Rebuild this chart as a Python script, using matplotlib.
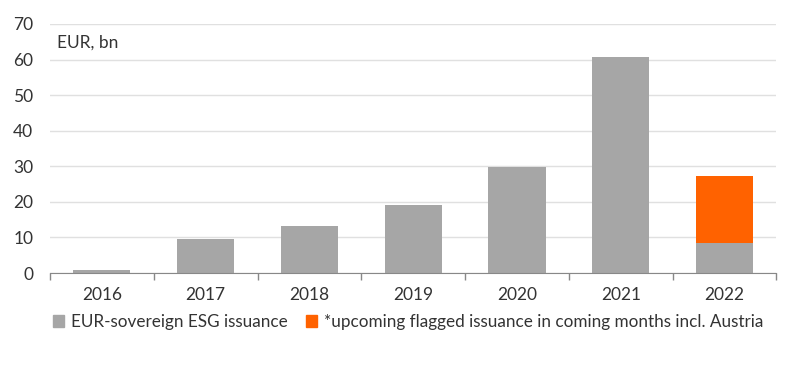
import matplotlib
matplotlib.use("Agg")
from matplotlib import pyplot as plt
from matplotlib.patches import Patch

# Data
years = ["2016", "2017", "2018", "2019", "2020", "2021", "2022"]
issued = [0.8, 9.6, 13.3, 19.1, 29.9, 60.8, 8.4]
upcoming = [0, 0, 0, 0, 0, 0, 18.9]

grey = "#a6a6a6"
orange = "#ff6200"
text_col = "#333333"

plt.rcParams["font.family"] = ["Lato", "DejaVu Sans"]

fig = plt.figure(figsize=(8, 3.68), dpi=100)
ax = fig.add_axes([0.0625, 0.258, 0.908, 0.677])

x = range(len(years))
ax.bar(x, issued, width=0.55, color=grey, zorder=2)
ax.bar(x, upcoming, width=0.55, bottom=issued, color=orange, zorder=2)

ax.set_xlim(-0.5, len(years) - 0.5)
ax.set_ylim(0, 70)
ax.set_yticks(range(0, 71, 10))
ax.yaxis.grid(True, color="#e0e0e0", linewidth=1)
ax.set_axisbelow(True)

# Category ticks at boundaries
ax.set_xticks([i - 0.5 for i in range(len(years) + 1)], minor=False)
ax.set_xticklabels([])
ax.set_xticks(list(x), minor=True)
ax.set_xticklabels(years, minor=True)
ax.tick_params(axis="x", which="major", length=5, color="#888888", width=1)
ax.tick_params(axis="x", which="minor", length=0, pad=10, labelsize=12.5, labelcolor=text_col)
ax.tick_params(axis="y", length=0, pad=12, labelsize=12.5, labelcolor=text_col)

for side in ["top", "right", "left"]:
    ax.spines[side].set_visible(False)
ax.spines["bottom"].set_color("#888888")

ax.text(0.01, 0.958, "EUR, bn", transform=ax.transAxes, fontsize=12.5,
        color=text_col, va="top", ha="left")

handles = [Patch(color=grey, label="EUR-sovereign ESG issuance"),
           Patch(color=orange, label="*upcoming flagged issuance in coming months incl. Austria")]
fig.legend(handles=handles, loc="center left", bbox_to_anchor=(0.066, 0.125),
           ncol=2, frameon=False, fontsize=12.3, handlelength=0.65, handleheight=0.65,
           handletextpad=0.4, columnspacing=1.1, labelcolor=text_col, borderaxespad=0,
           borderpad=0)

plt.savefig("out.png", dpi=100)
